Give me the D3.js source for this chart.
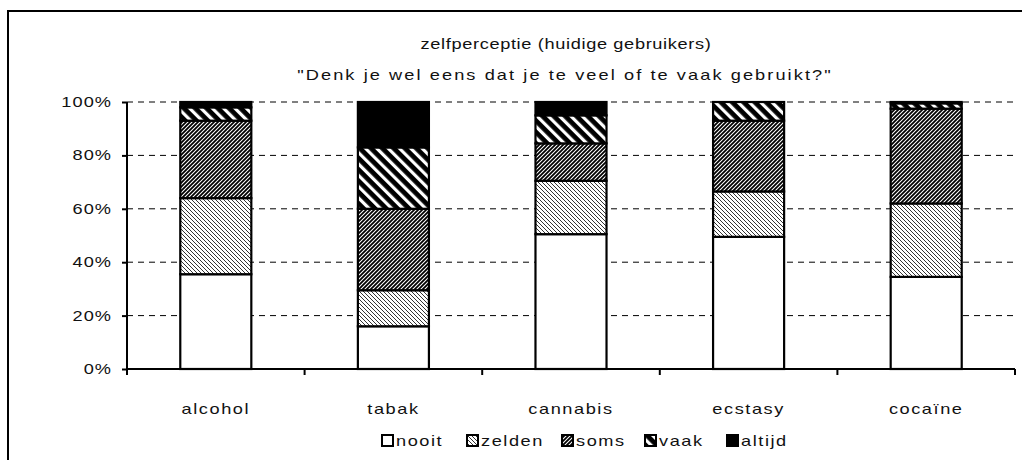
<!DOCTYPE html>
<html>
<head>
<meta charset="utf-8">
<script src="https://d3js.org/d3.v7.min.js"></script>
<style>
body { margin: 0; background: white; }
</style>
</head>
<body>
<script>

var categories = ["alcohol", "tabak", "cannabis", "ecstasy", "cocaïne"];
var seriesNames = ["nooit", "zelden", "soms", "vaak", "altijd"];
var nooit  = [35.5, 16.0, 50.5, 49.5, 34.5];
var zelden = [28.5, 13.5, 20.0, 17.0, 27.5];
var soms   = [29.0, 30.5, 14.0, 26.5, 35.5];
var vaak   = [5.0, 23.0, 10.5, 7.0, 2.0];
var altijd = [2.0, 17.0, 5.0, 0.0, 0.5];
var yTicks = [0, 20, 40, 60, 80, 100];
var titleLines = ["zelfperceptie (huidige gebruikers)", "\"Denk je wel eens dat je te veel of te vaak gebruikt?\""];

var width = 1022, height = 460;
var sx = 1.3; // horizontaal uitgerekte tekst zoals in het origineel
var font = "'Liberation Sans', Arial, sans-serif";

var svg = d3.select("body").append("svg")
    .attr("width", width)
    .attr("height", height);

svg.append("rect").attr("width", width).attr("height", height).attr("fill", "white");

// patronen
var defs = svg.append("defs");

var p1 = defs.append("pattern").attr("id", "p-zelden")
    .attr("patternUnits", "userSpaceOnUse").attr("width", 4).attr("height", 4);
p1.append("rect").attr("width", 4).attr("height", 4).attr("fill", "white");
p1.append("path").attr("d", "M-1,-1 L5,5 M-1,3 L1,5 M3,-1 L5,1")
    .attr("stroke", "#000").attr("stroke-width", 0.8);

var p2 = defs.append("pattern").attr("id", "p-soms")
    .attr("patternUnits", "userSpaceOnUse").attr("width", 4).attr("height", 4);
p2.append("rect").attr("width", 4).attr("height", 4).attr("fill", "white");
p2.append("path").attr("d", "M-1,5 L5,-1 M-1,1 L1,-1 M3,5 L5,3")
    .attr("stroke", "#000").attr("stroke-width", 1.8);

var p3 = defs.append("pattern").attr("id", "p-vaak")
    .attr("patternUnits", "userSpaceOnUse").attr("width", 8).attr("height", 8)
    .attr("patternTransform", "rotate(-45)");
p3.append("rect").attr("width", 8).attr("height", 8).attr("fill", "black");
p3.append("rect").attr("width", 3.2).attr("height", 8).attr("fill", "white");

var fills = ["white", "url(#p-zelden)", "url(#p-soms)", "url(#p-vaak)", "black"];

// buitenrand
svg.append("rect")
    .attr("x", 8).attr("y", 11)
    .attr("width", 1040).attr("height", 480)
    .attr("fill", "none").attr("stroke", "black").attr("stroke-width", 2);

function stretchedText(x, y, txt, size, anchor, ls) {
    return svg.append("text")
        .attr("transform", "translate(" + x + "," + y + ") scale(" + sx + ",1)")
        .attr("text-anchor", anchor || "middle")
        .attr("font-family", font)
        .attr("font-size", size)
        .attr("letter-spacing", (ls || 0.8) + "px")
        .attr("fill", "#111")
        .text(txt);
}

// schalen
var x = d3.scaleBand().domain(categories).range([127, 1015]).padding(0);
var y = d3.scaleLinear().domain([0, 100]).range([369, 102]);
var barW = x.bandwidth() * 0.4;

// titel
stretchedText(566, 49, titleLines[0], 14, "middle", 0.5);
stretchedText(565, 80, titleLines[1], 14, "middle", 1.6);

// rasterlijnen
svg.selectAll(".grid").data(yTicks.filter(function(d){ return d > 0; }))
    .enter().append("line")
    .attr("x1", 127).attr("x2", 1015)
    .attr("y1", function(d){ return y(d); })
    .attr("y2", function(d){ return y(d); })
    .attr("stroke", "black").attr("stroke-width", 1)
    .attr("stroke-dasharray", "6,5");

// gestapelde data
var table = categories.map(function(c, i){
    return { cat: c, nooit: nooit[i], zelden: zelden[i], soms: soms[i], vaak: vaak[i], altijd: altijd[i] };
});
var stacked = d3.stack().keys(seriesNames)(table);

stacked.forEach(function(layer, k){
    svg.append("g").selectAll("rect").data(layer.filter(function(d){ return d[1] - d[0] > 0; }))
        .enter().append("rect")
        .attr("x", function(d){ return x(d.data.cat) + (x.bandwidth() - barW) / 2; })
        .attr("y", function(d){ return y(d[1]); })
        .attr("width", barW)
        .attr("height", function(d){ return y(d[0]) - y(d[1]); })
        .attr("fill", fills[k])
        .attr("stroke", "black")
        .attr("stroke-width", 2.2);
});

// assen
var yAxis = svg.append("g").attr("transform", "translate(127,0)")
    .call(d3.axisLeft(y).tickValues(yTicks).tickSize(5).tickFormat(""));
yAxis.select(".domain").attr("d", "M0," + y(100) + "V" + y(0)).attr("stroke-width", 2);
yAxis.selectAll(".tick line").attr("stroke-width", 2);

yTicks.forEach(function(t){
    stretchedText(112, y(t) + 5, t + "%", 14, "end");
});

var xAxis = svg.append("g").attr("transform", "translate(0,369)");
xAxis.append("line").attr("x1", 127).attr("x2", 1015).attr("y1", 0).attr("y2", 0)
    .attr("stroke", "black").attr("stroke-width", 2);
var edges = categories.map(function(c){ return x(c); }).concat([1015]);
xAxis.selectAll(".xt").data(edges).enter().append("line")
    .attr("x1", function(d){ return d; }).attr("x2", function(d){ return d; })
    .attr("y1", 0).attr("y2", 6)
    .attr("stroke", "black").attr("stroke-width", 2);

categories.forEach(function(c){
    stretchedText(x(c) + x.bandwidth() / 2, 414, c, 14, "middle", 1.2);
});

// legenda
var legendX = [382, 467, 562, 645, 727];
seriesNames.forEach(function(s, k){
    svg.append("rect")
        .attr("x", legendX[k]).attr("y", 435)
        .attr("width", 11).attr("height", 11)
        .attr("fill", fills[k]).attr("stroke", "black").attr("stroke-width", 2);
    stretchedText(legendX[k] + 14, 446, s, 14, "start", 1.2);
});

</script>
</body>
</html>
